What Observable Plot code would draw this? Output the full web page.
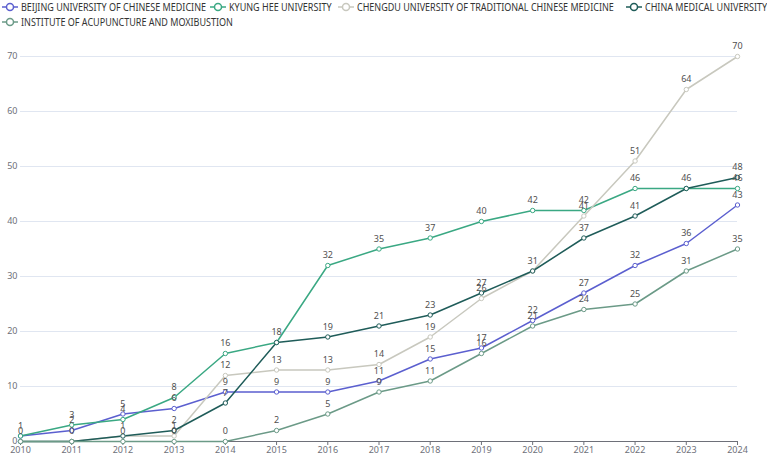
<!DOCTYPE html>
<html>
<head>
<meta charset="utf-8">
<script src="https://cdn.jsdelivr.net/npm/d3@7"></script>
<script src="https://cdn.jsdelivr.net/npm/@observablehq/plot@0.6"></script>
<style>
  body { margin: 0; background: #fff; font-family: "Noto Sans", sans-serif; }
  #legend { height: 30px; position: relative; font-size: 10px; color: #333; }
  #legend .item { position: absolute; display: flex; align-items: center; white-space: nowrap; }
  #legend svg { margin-right: 3px; flex: none; }
  #legend span { display: inline-block; transform: scaleX(0.9); transform-origin: 0 50%; }
  #chart svg { overflow: visible; display: block; }
</style>
</head>
<body>
<div id="legend"></div>
<div id="chart"></div>
<script>
const years = [2010, 2011, 2012, 2013, 2014, 2015, 2016, 2017, 2018, 2019, 2020, 2021, 2022, 2023, 2024];
const seriesNames = [
  "BEIJING UNIVERSITY OF CHINESE MEDICINE",
  "KYUNG HEE UNIVERSITY",
  "CHENGDU UNIVERSITY OF TRADITIONAL CHINESE MEDICINE",
  "CHINA MEDICAL UNIVERSITY",
  "INSTITUTE OF ACUPUNCTURE AND MOXIBUSTION"
];
const beijing      = [1, 2, 5, 6, 9, 9, 9, 11, 15, 17, 22, 27, 32, 36, 43];
const kyungHee     = [1, 3, 4, 8, 16, 18, 32, 35, 37, 40, 42, 42, 46, 46, 46];
const chengdu      = [0, 0, 1, 1, 12, 13, 13, 14, 19, 26, 31, 41, 51, 64, 70];
const chinaMedical = [0, 0, 1, 2, 7, 18, 19, 21, 23, 27, 31, 37, 41, 46, 48];
const institute    = [0, 0, 0, 0, 0, 2, 5, 9, 11, 16, 21, 24, 25, 31, 35];
const yTicks = [0, 10, 20, 30, 40, 50, 60, 70];
const colors = ["#5b5fcf", "#3aa883", "#c8c8be", "#1f5c59", "#6b9a87"];

const seriesValues = [beijing, kyungHee, chengdu, chinaMedical, institute];
const data = [];
seriesValues.forEach((vals, si) => {
  vals.forEach((v, i) => data.push({series: seriesNames[si], year: years[i], value: v}));
});
// one label per distinct (year, value) so coincident labels are not drawn twice
const seen = new Set();
const labels = data.filter(d => {
  const k = d.year + ":" + d.value;
  if (seen.has(k)) return false;
  seen.add(k);
  return true;
});

// Legend
const legendPos = [[2, 0], [210, 0], [338, 0], [626, 0], [2, 15]];
const legend = document.getElementById("legend");
seriesNames.forEach((name, i) => {
  const item = document.createElement("div");
  item.className = "item";
  item.style.left = legendPos[i][0] + "px";
  item.style.top = legendPos[i][1] + "px";
  item.style.height = "14px";
  item.innerHTML = `<svg width="16" height="10"><line x1="0" y1="5" x2="16" y2="5" stroke="${colors[i]}" stroke-width="1.5"/><circle cx="8" cy="5" r="3.5" fill="#fff" stroke="${colors[i]}" stroke-width="1.5"/></svg><span>${name}</span>`;
  legend.appendChild(item);
});

const chart = Plot.plot({
  width: 767,
  height: 425,
  marginLeft: 20,
  marginRight: 30,
  marginTop: 26,
  marginBottom: 14,
  style: {fontFamily: "Noto Sans, sans-serif", fontSize: "9px", overflow: "visible"},
  x: {type: "linear", domain: [2010, 2024]},
  y: {domain: [0, 70]},
  color: {domain: seriesNames, range: colors},
  marks: [
    Plot.gridY(yTicks, {stroke: "#e0e6f1", strokeOpacity: 1}),
    Plot.axisY(yTicks, {tickSize: 0, tickPadding: 3, fill: "#6e7079", fontSize: 9, label: null}),
    Plot.axisX(years, {tickSize: 4, tickPadding: 1, stroke: "#6e7079", fill: "#6e7079", fontSize: 9, tickFormat: d => String(d), label: null}),
    Plot.ruleY([0], {stroke: "#6e7079"}),
    Plot.line(data, {x: "year", y: "value", z: "series", stroke: "series", strokeWidth: 1.5}),
    Plot.dot(data, {x: "year", y: "value", stroke: "series", fill: "#fff", r: 2.2, strokeWidth: 1}),
    Plot.text(labels, {x: "year", y: "value", text: d => String(d.value), dy: -10, fill: "#505050", fontSize: 9})
  ]
});
document.getElementById("chart").appendChild(chart);
</script>
</body>
</html>
